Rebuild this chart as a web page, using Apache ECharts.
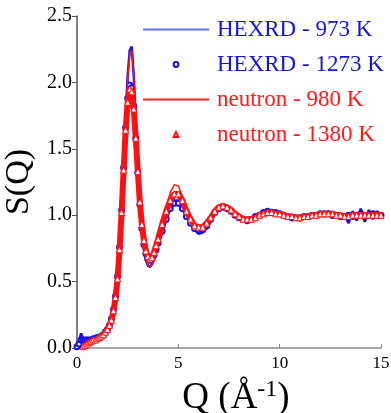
<!DOCTYPE html>
<html>
<head>
<meta charset="utf-8">
<script src="https://cdn.jsdelivr.net/npm/echarts@6/dist/echarts.min.js"></script>
<style>
  html, body { margin: 0; padding: 0; background: #fff; }
  #chart { width: 391px; height: 413px; }
</style>
</head>
<body>
<div id="chart"></div>
<script>
// Q grid (A^-1): 0.1 step up to 3.9, then 0.2 step to 15
const qValues = [
  0.0, 0.1, 0.2, 0.3, 0.4, 0.5, 0.6, 0.7, 0.8, 0.9,
  1.0, 1.1, 1.2, 1.3, 1.4, 1.5, 1.6, 1.7, 1.8, 1.9,
  2.0, 2.1, 2.2, 2.3, 2.4, 2.5, 2.6, 2.7, 2.8, 2.9,
  3.0, 3.1, 3.2, 3.3, 3.4, 3.5, 3.6, 3.7, 3.8, 3.9,
  4.0, 4.2, 4.4, 4.6, 4.8, 5.0, 5.2, 5.4, 5.6, 5.8,
  6.0, 6.2, 6.4, 6.6, 6.8, 7.0, 7.2, 7.4, 7.6, 7.8,
  8.0, 8.2, 8.4, 8.6, 8.8, 9.0, 9.2, 9.4, 9.6, 9.8,
  10.0, 10.2, 10.4, 10.6, 10.8, 11.0, 11.2, 11.4, 11.6, 11.8,
  12.0, 12.2, 12.4, 12.6, 12.8, 13.0, 13.2, 13.4, 13.6, 13.8,
  14.0, 14.2, 14.4, 14.6, 14.8, 15.0
];

const hexrd973 = [
  0.02, 0.05, 0.11, 0.07, 0.06, 0.07, 0.06, 0.07, 0.07, 0.07,
  0.08, 0.08, 0.09, 0.10, 0.12, 0.14, 0.17, 0.21, 0.27, 0.36,
  0.50, 0.72, 1.02, 1.38, 1.75, 2.05, 2.24, 2.27, 2.05, 1.72,
  1.38, 1.08, 0.87, 0.74, 0.66, 0.62, 0.61, 0.63, 0.67, 0.72,
  0.77, 0.87, 0.97, 1.06, 1.11, 1.11, 1.06, 0.99, 0.93, 0.89,
  0.86, 0.87, 0.90, 0.95, 1.01, 1.05, 1.07, 1.06, 1.03, 1.00,
  0.97, 0.96, 0.94, 0.96, 0.98, 1.00, 1.03, 1.02, 1.04, 1.02,
  1.01, 0.99, 1.00, 0.96, 0.99, 0.96, 0.98, 0.97, 1.01, 0.99,
  1.02, 0.99, 1.03, 0.98, 1.01, 0.97, 1.00, 0.94, 1.03, 0.96,
  1.05, 0.95, 1.04, 0.97, 1.03, 1.00
];

const hexrd1273 = [
  0.01, 0.03, 0.06, 0.06, 0.06, 0.06, 0.06, 0.06, 0.07, 0.07,
  0.08, 0.08, 0.09, 0.10, 0.12, 0.14, 0.17, 0.22, 0.29, 0.39,
  0.54, 0.76, 1.04, 1.36, 1.66, 1.88, 1.98, 1.96, 1.82, 1.58,
  1.32, 1.08, 0.90, 0.78, 0.71, 0.67, 0.66, 0.67, 0.70, 0.74,
  0.79, 0.88, 0.97, 1.05, 1.09, 1.09, 1.05, 0.99, 0.94, 0.90,
  0.89, 0.89, 0.92, 0.97, 1.02, 1.05, 1.06, 1.05, 1.03, 1.00,
  0.98, 0.97, 0.96, 0.97, 0.99, 1.00, 1.02, 1.03, 1.02, 1.02,
  1.01, 1.00, 0.99, 0.98, 0.98, 0.98, 0.99, 0.99, 1.00, 1.00,
  1.01, 1.01, 1.01, 1.00, 1.00, 0.99, 0.99, 1.00, 0.99, 1.00,
  1.01, 0.99, 1.00, 1.01, 1.00, 1.00
];

const neutron980 = [
  null, null, null, 0.01, 0.02, 0.03, 0.04, 0.05, 0.06, 0.06,
  0.07, 0.08, 0.09, 0.10, 0.11, 0.13, 0.16, 0.20, 0.26, 0.35,
  0.48, 0.68, 0.98, 1.34, 1.72, 2.03, 2.22, 2.24, 2.06, 1.75,
  1.42, 1.12, 0.90, 0.76, 0.67, 0.62, 0.61, 0.63, 0.68, 0.74,
  0.80, 0.93, 1.06, 1.17, 1.23, 1.22, 1.14, 1.04, 0.96, 0.91,
  0.89, 0.90, 0.93, 0.98, 1.03, 1.07, 1.08, 1.07, 1.04, 1.01,
  0.98, 0.96, 0.96, 0.96, 0.98, 1.00, 1.01, 1.02, 1.02, 1.02,
  1.01, 1.00, 0.99, 0.98, 0.98, 0.98, 0.99, 0.99, 1.00, 1.00,
  1.01, 1.01, 1.01, 1.01, 1.00, 1.00, 0.99, 0.99, 0.99, 1.00,
  1.00, 1.00, 1.00, 1.00, 1.00, 1.01
];

const neutron1380 = [
  null, null, null, 0.01, 0.02, 0.03, 0.04, 0.05, 0.06, 0.06,
  0.07, 0.08, 0.09, 0.10, 0.12, 0.14, 0.17, 0.21, 0.28, 0.38,
  0.52, 0.74, 1.02, 1.34, 1.64, 1.85, 1.95, 1.93, 1.80, 1.58,
  1.33, 1.10, 0.93, 0.81, 0.73, 0.69, 0.67, 0.68, 0.72, 0.77,
  0.82, 0.93, 1.03, 1.11, 1.16, 1.16, 1.11, 1.03, 0.97, 0.92,
  0.91, 0.91, 0.94, 0.98, 1.03, 1.06, 1.07, 1.06, 1.04, 1.01,
  0.99, 0.97, 0.97, 0.97, 0.98, 1.00, 1.01, 1.02, 1.02, 1.01,
  1.01, 1.00, 0.99, 0.99, 0.98, 0.98, 0.99, 0.99, 1.00, 1.00,
  1.01, 1.01, 1.01, 1.01, 1.00, 1.00, 0.99, 0.99, 1.00, 1.00,
  1.00, 1.00, 1.00, 1.00, 1.00, 1.00
];

const seriesNames = ['HEXRD - 973 K', 'HEXRD - 1273 K', 'neutron - 980 K', 'neutron - 1380 K'];
const xTicks = [0, 5, 10, 15];
const yTicks = [0, 0.5, 1.0, 1.5, 2.0, 2.5];

const BLUE = '#1010f0';
const RED = '#ff1010';
const FONT = "'Liberation Serif', 'DejaVu Serif', serif";

function pairs(vals) {
  return qValues.map((q, i) => [q, vals[i]]);
}

function legendText(color) {
  return { fontFamily: FONT, fontSize: 23, color: color, padding: [0, 0, 0, 3] };
}

const chart = echarts.init(document.getElementById('chart'));

const option = {
  animation: false,
  backgroundColor: '#fff',
  textStyle: { fontFamily: FONT, color: '#000' },
  grid: { left: 77, right: 10, top: 16, bottom: 65, outerBoundsMode: 'none' },
  legend: {
    orient: 'vertical',
    left: 142,
    top: 18,
    padding: 0,
    itemWidth: 66,
    itemHeight: 6,
    itemGap: 12,
    textStyle: legendText('#000'),
    data: [
      { name: seriesNames[0], textStyle: legendText('#1515d5'), itemStyle: { opacity: 0 }, lineStyle: { width: 2, color: '#6070f0' } },
      { name: seriesNames[1], textStyle: legendText('#1515d5'), lineStyle: { opacity: 0 } },
      { name: seriesNames[2], textStyle: legendText('#ff1a1a'), itemStyle: { opacity: 0 }, lineStyle: { width: 2, color: '#ff2020' } },
      { name: seriesNames[3], textStyle: legendText('#ff1a1a'), lineStyle: { opacity: 0 } }
    ]
  },
  xAxis: {
    type: 'value',
    min: 0,
    max: 15,
    interval: 5,
    name: '{q|Q (Å}{sup|-1}{q|)}',
    nameLocation: 'middle',
    nameGap: 30,
    nameTextStyle: {
      padding: [0, 0, 0, 14],
      rich: {
        q: { fontFamily: FONT, fontSize: 37, color: '#000' },
        sup: { fontFamily: FONT, fontSize: 24, color: '#000', verticalAlign: 'top', padding: [0, 0, 16, 0] }
      }
    },
    axisLine: { lineStyle: { color: '#8a8a8a', width: 1.5 } },
    axisTick: { inside: true, lineStyle: { color: '#8a8a8a' }, length: 4 },
    axisLabel: {
      fontFamily: FONT, fontSize: 17, color: '#000', margin: 7,
      customValues: xTicks
    },
    splitLine: { show: false }
  },
  yAxis: {
    type: 'value',
    min: 0,
    max: 2.5,
    interval: 0.5,
    name: 'S(Q)',
    nameLocation: 'middle',
    nameGap: 30,
    nameRotate: 90,
    nameTextStyle: { fontFamily: FONT, fontSize: 34, color: '#000' },
    axisLine: { show: true, lineStyle: { color: '#555', width: 1.5 } },
    axisTick: { show: true, lineStyle: { color: '#555' }, length: 5 },
    axisLabel: {
      fontFamily: FONT, fontSize: 20, color: '#000', margin: 5,
      formatter: v => yTicks.indexOf(v) >= 0 ? v.toFixed(1) : ''
    },
    splitLine: { show: false }
  },
  series: [
    {
      name: seriesNames[0],
      type: 'line',
      data: pairs(hexrd973),
      showSymbol: false,
      symbol: 'none',
      lineStyle: { color: BLUE, width: 2.5 },
      itemStyle: { color: BLUE },
      z: 2
    },
    {
      name: seriesNames[1],
      type: 'line',
      data: pairs(hexrd1273),
      symbol: 'emptyCircle',
      symbolSize: 5,
      showAllSymbol: true,
      lineStyle: { color: BLUE, width: 3 },
      itemStyle: { color: BLUE, borderWidth: 1 },
      z: 3
    },
    {
      name: seriesNames[2],
      type: 'line',
      data: pairs(neutron980),
      showSymbol: false,
      symbol: 'none',
      lineStyle: { color: RED, width: 1.5 },
      itemStyle: { color: RED },
      z: 4
    },
    {
      name: seriesNames[3],
      type: 'line',
      data: pairs(neutron1380),
      symbol: 'triangle',
      symbolSize: 6,
      showAllSymbol: true,
      lineStyle: { color: RED, width: 6 },
      itemStyle: { color: '#fff', borderColor: RED, borderWidth: 1 },
      z: 5
    }
  ]
};

chart.setOption(option);
</script>
</body>
</html>
